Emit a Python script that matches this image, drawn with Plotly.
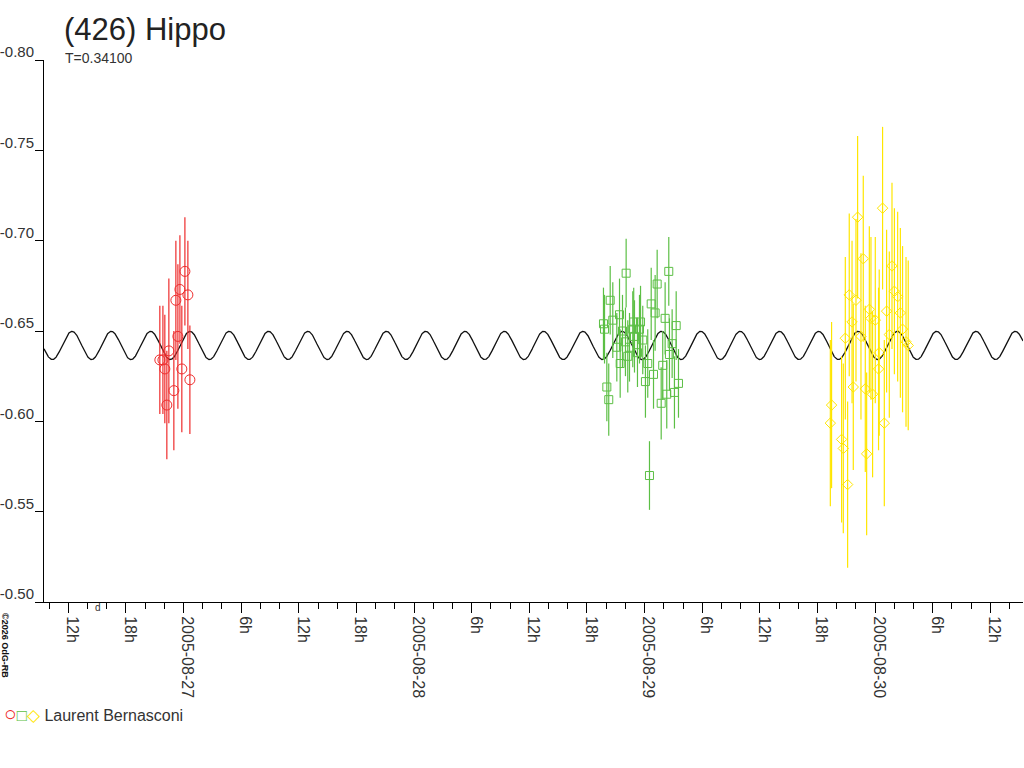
#lightcurve of (426) Hippo

import numpy as np
import pandas as pd
import plotly.graph_objects as go

# reference day, all times below are hours since 2005-08-27 00:00 UT
ref_day = pd.Timestamp("2005-08-27 00:00")

# session 1 (red circles)
red_hours = [-2.47, -2.15, -1.95, -1.74, -1.53, -1.01, -0.80, -0.59, -0.38, -0.18, 0.14, 0.45, 0.66]
red_mag = [-0.634, -0.634, -0.629, -0.609, -0.639, -0.617, -0.667, -0.647, -0.673, -0.629, -0.683, -0.670, -0.623]
red_err = [0.030, 0.030, 0.030, 0.030, 0.040, 0.033, 0.033, 0.040, 0.030, 0.035, 0.030, 0.030, 0.030]

# session 2 (green squares)
green_hours = [43.72, 43.83, 44.07, 44.27, 44.42, 44.69, 45.11, 45.39, 45.46, 45.70,
               46.01, 46.08, 46.25, 46.43, 46.77, 46.87, 46.95, 47.26, 47.47, 47.58,
               47.81, 48.09, 48.33, 48.51, 48.69, 48.93, 49.10, 49.31, 49.73, 49.89,
               50.14, 50.31, 50.52, 50.59, 50.87, 51.11, 51.29, 51.53]
green_mag = [-0.654, -0.651, -0.619, -0.612, -0.667, -0.656, -0.641, -0.659, -0.632, -0.650,
             -0.644, -0.682, -0.636, -0.641, -0.651, -0.655, -0.647, -0.638, -0.651, -0.655,
             -0.645, -0.622, -0.632, -0.570, -0.665, -0.626, -0.660, -0.676, -0.610, -0.631,
             -0.657, -0.615, -0.683, -0.637, -0.643, -0.616, -0.653, -0.621]
green_err = [0.020, 0.019, 0.019, 0.020, 0.019, 0.021, 0.019, 0.020, 0.019, 0.020,
             0.019, 0.019, 0.020, 0.019, 0.021, 0.019, 0.020, 0.019, 0.019, 0.020,
             0.019, 0.020, 0.019, 0.019, 0.020, 0.019, 0.021, 0.019, 0.020, 0.019,
             0.020, 0.019, 0.019, 0.020, 0.019, 0.020, 0.019, 0.019]

# session 3 (yellow diamonds)
yellow_hours = [67.34, 67.47, 68.51, 68.69, 68.90, 69.14, 69.31, 69.60, 69.73, 70.01,
                70.18, 70.53, 70.77, 70.98, 71.12, 71.40, 71.57, 71.74, 72.02, 72.36,
                72.43, 72.78, 72.96, 73.20, 73.48, 73.76, 74.01, 74.35, 74.63, 74.86,
                75.22, 75.45]
yellow_mag = [-0.599, -0.609, -0.590, -0.585, -0.646, -0.565, -0.670, -0.655, -0.619, -0.667,
              -0.713, -0.647, -0.690, -0.618, -0.582, -0.662, -0.657, -0.615, -0.656, -0.629,
              -0.638, -0.718, -0.599, -0.661, -0.648, -0.686, -0.672, -0.669, -0.660, -0.651,
              -0.644, -0.642]
yellow_err = [0.046, 0.046, 0.046, 0.047, 0.045, 0.046, 0.045, 0.045, 0.046, 0.045,
              0.045, 0.046, 0.046, 0.046, 0.045, 0.046, 0.045, 0.046, 0.046, 0.045,
              0.046, 0.045, 0.046, 0.045, 0.046, 0.046, 0.046, 0.047, 0.047, 0.046,
              0.047, 0.047]

# fitted model (double wave, period T in days)
period_days = 0.341
fit_mean = -0.642
fit_amp = 0.0078
fit_epoch_hours = 0.66

# x axis range and tick labels
x_start_hours = -14.53
x_end_hours = 87.4
tick_hours = [-12, -6, 0, 6, 12, 18, 24, 30, 36, 42, 48, 54, 60, 66, 72, 78, 84]
tick_labels = ["12h", "18h", "2005-08-27", "6h", "12h", "18h", "2005-08-28", "6h", "12h",
               "18h", "2005-08-29", "6h", "12h", "18h", "2005-08-30", "6h", "12h"]
y_ticks = [-0.80, -0.75, -0.70, -0.65, -0.60, -0.55, -0.50]

observer = "Laurent Bernasconi"
red = "#ee2d2d"
green = "#5cbf45"
yellow = "#ffe600"
font_name = "Liberation Sans, Arial, sans-serif"


def to_time(hours):
    return ref_day + pd.to_timedelta(np.asarray(hours, dtype=float), unit="h")


fig = go.Figure()

# model curve
curve_h = np.linspace(x_start_hours, x_end_hours, 4000)
half_period_h = period_days * 24 / 2
curve_mag = fit_mean - fit_amp * np.cos(2 * np.pi * (curve_h - fit_epoch_hours) / half_period_h)
fig.add_trace(go.Scatter(x=to_time(curve_h), y=curve_mag, mode="lines",
                         line=dict(color="#111111", width=1.3), hoverinfo="skip"))

sessions = [
    (red_hours, red_mag, red_err, red, "circle-open", 10),
    (green_hours, green_mag, green_err, green, "square-open", 8),
    (yellow_hours, yellow_mag, yellow_err, yellow, "diamond-open", 8),
]
for hours, mag, err, col, sym, size in sessions:
    fig.add_trace(go.Scatter(
        x=to_time(hours), y=mag, mode="markers",
        marker=dict(symbol=sym, size=size, color=col, line=dict(color=col, width=1)),
        error_y=dict(type="data", array=err, visible=True, color=col, thickness=1.2, width=0),
    ))

fig.update_layout(
    width=1024, height=768,
    margin=dict(l=44, r=1, t=60, b=166),
    paper_bgcolor="white", plot_bgcolor="white",
    showlegend=False,
    font=dict(family=font_name, color="#333333", size=16),
    title=dict(text="(426) Hippo", x=64 / 1024, xanchor="left", xref="container",
               y=1 - 29 / 768, yanchor="middle", yref="container",
               font=dict(size=31, color="#222222", family=font_name)),
)

fig.update_xaxes(
    type="date", automargin=False,
    range=[to_time([x_start_hours])[0], to_time([x_end_hours])[0]],
    tickmode="array", tickvals=to_time(tick_hours), ticktext=tick_labels,
    tickangle=90, ticks="outside", ticklen=10, tickcolor="black", tickwidth=1,
    showline=True, linecolor="black", linewidth=1, showgrid=False, zeroline=False,
    tickfont=dict(size=16, color="#333333"),
    ticklabelshift=4,
    minor=dict(ticks="outside", ticklen=6, tickcolor="black", tickwidth=1,
               dtick=2 * 3600 * 1000, tick0="2005-08-27", showgrid=False),
)
fig.update_yaxes(
    automargin=False,
    range=[-0.50, -0.80],
    tickmode="array", tickvals=y_ticks, ticktext=["%.2f" % v for v in y_ticks],
    ticks="outside", ticklen=8, tickcolor="black", tickwidth=1,
    showline=True, linecolor="black", linewidth=1, showgrid=False, zeroline=False,
    tickfont=dict(size=15, color="#333333"),
    ticklabelshift=8, ticklabelstandoff=-2,
)

# period label under title
fig.add_annotation(text="T=0.34100", xref="paper", yref="paper",
                   x=(63 - 44) / 979, y=(602 - 58) / 542, xanchor="left", yanchor="middle",
                   showarrow=False, font=dict(size=14, color="#333333"))

# observer key at the bottom
legend_text = ("<span style='color:%s;font-size:21px'>○</span>"
               "<span style='color:%s;font-size:17px'>□</span>"
               "<span style='color:%s;font-size:17px'>◇</span> %s" % (red, green, yellow, observer))
fig.add_annotation(text=legend_text, xref="paper", yref="paper",
                   x=(2 - 44) / 979, y=(602 - 713) / 542, xanchor="left", yanchor="middle",
                   showarrow=False, font=dict(size=16, color="#333333"))

# small marks near the axes
fig.add_annotation(text="<b>©2026 OdG-RB</b>", xref="paper", yref="paper", textangle=90,
                   x=(5 - 44) / 979, y=(602 - 645) / 542, xanchor="center", yanchor="middle",
                   showarrow=False, font=dict(size=9, color="#111111"))
fig.add_annotation(text="d", xref="paper", yref="paper",
                   x=(98 - 44) / 979, y=(602 - 607) / 542, xanchor="center", yanchor="middle",
                   showarrow=False, font=dict(size=10, color="#333333"))

# the page body has a default 8px margin, drop it so the figure sits at 0,0
fig.write_html("out.html", config={"displayModeBar": False},
               post_script="document.body.style.margin='0px';")
